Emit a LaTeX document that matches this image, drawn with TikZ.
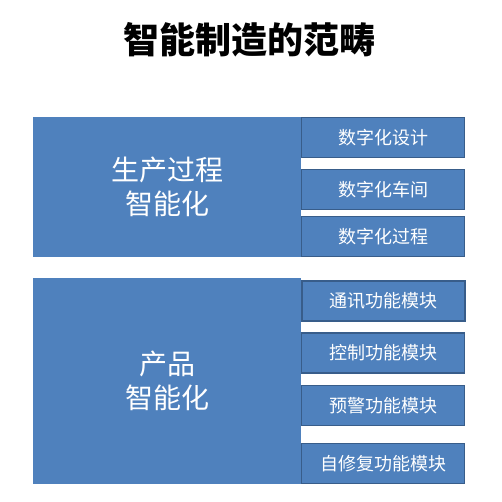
\documentclass[tikz,border=0pt]{standalone}
\usepackage{fontspec}
\newfontfamily\cjk{Noto Sans CJK SC}
\usepackage{xcolor}
\usetikzlibrary{positioning}
\definecolor{boxblue}{HTML}{4F81BD}
\definecolor{boxline}{HTML}{385D8A}

\begin{document}
\begin{tikzpicture}[x=1pt,y=-1pt,font=\cjk]
			\tikzstyle{big}=[fill=boxblue,text=white,inner sep=0pt,minimum width=268pt,align=center,font=\cjk\fontsize{28}{34}\selectfont]
			\tikzstyle{part}=[fill=boxblue,draw=boxline,line width=1.5pt,text=white,inner sep=0pt,minimum width=163pt,minimum height=40pt,font=\cjk\fontsize{18}{22}\selectfont]
			\useasboundingbox (0,0) rectangle (501,502);
			\node[font=\cjk\bfseries\fontsize{36}{40}\selectfont] (T) at (249,40) {智能制造的范畴};
			\node[big,minimum height=140pt]    (P)  at (167,187)  {生产过程\\智能化};
			\node[big,minimum height=206pt]    (Q)  at (167,381)  {产品\\智能化};
			\node[part]    (P1) at (383,137.5)  {数字化设计};
			\node[part]    (P2) at (383,189.5)  {数字化车间};
			\node[part]    (P3) at (383,236.5)  {数字化过程};
			\node[part]    (Q1) at (383.5,301)  {通讯功能模块};
			\node[part]    (Q2) at (383,353)    {控制功能模块};
			\node[part]    (Q3) at (383,405.5)  {预警功能模块};
			\node[part]    (Q4) at (383,463.5)  {自修复功能模块};
		\end{tikzpicture}
\end{document}
